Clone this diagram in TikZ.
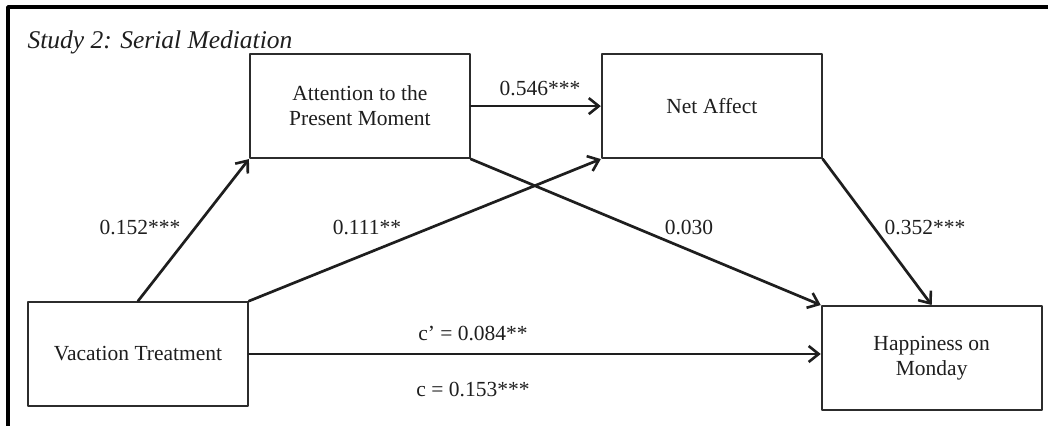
\documentclass[tikz,border=0pt]{standalone}
\usepackage{fontspec}
\setmainfont{Liberation Serif}
\usepackage{tikz}
\usetikzlibrary{arrows.meta,positioning}
\definecolor{ink}{HTML}{1E1E1E}
\definecolor{boxline}{HTML}{2C2C2C}

\begin{document}
\begin{tikzpicture}[
    x=1pt, y=-1pt,
    >={Straight Barb[length=10pt,width=16pt,line width=2.6pt]},
    font=\fontsize{21.5}{25}\selectfont,
    line cap=round,
    line join=round,
    varbox/.style={draw=boxline, fill=white, minimum width=220pt, minimum height=104pt, align=center, line width=1.9pt, text=ink, inner sep=0pt},
    pathline/.style={->, line width=2.7pt, draw=ink},
    coef/.style={text=ink, inner sep=1pt},
    frameline/.style={line width=3.5pt, draw=black, line cap=butt}
]

\useasboundingbox (0,0) rectangle (1048,426);

% Frame
\draw[frameline] (1048,7) -- (8,7) -- (8,426);

% Title
\node[anchor=west, text=ink, font=\fontsize{25.5}{28}\selectfont\itshape] (title) at (24,42) {Study 2: Serial Mediation};

% Boxes
\node[varbox] (vac) at (138,354) {Vacation Treatment};
\node[varbox, above right=142pt and 0pt of vac] (att) {Attention to the\\Present Moment};
\node[varbox, right=130pt of att] (net) {Net Affect};
\node[varbox, below right=146pt and -2pt of net] (hap) {Happiness on\\Monday};

% Paths
\draw[pathline] (vac.north) -- (att.south west);
\draw[pathline] (vac.north east) -- (net.south west);
\draw[pathline] (att.east) -- (net.west);
\draw[pathline] (att.south east) -- (hap.north west);
\draw[pathline] (net.south east) -- (hap.north);
\draw[pathline] (vac.east) -- (vac.east -| hap.west);

% Coefficients
\node[coef] (ca) at (140,227) {0.152***};
\node[coef] (cb) at (367,227) {0.111**};
\node[coef] (cc) at (540,88) {0.546***};
\node[coef] (cd) at (689,227) {0.030};
\node[coef] (ce) at (925,227) {0.352***};
\node[coef] (cf) at (473,333) {c’ = 0.084**};
\node[coef] (cg) at (473,389) {c = 0.153***};

\end{tikzpicture}
\end{document}
